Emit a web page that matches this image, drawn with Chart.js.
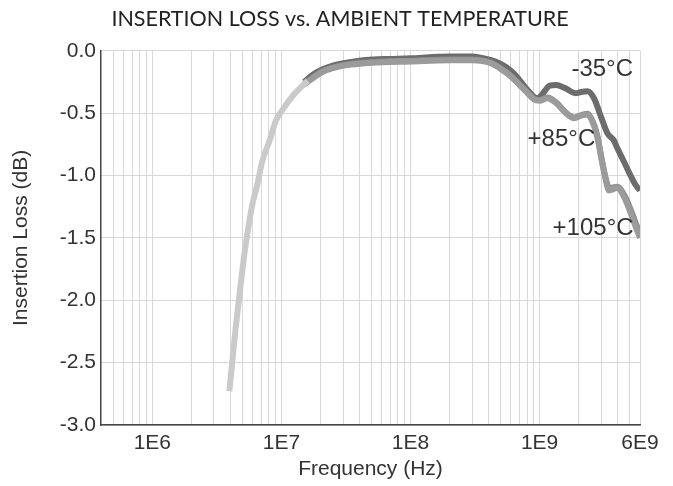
<!DOCTYPE html>
<html lang="en">
<head>
  <meta charset="UTF-8">
  <title>Insertion Loss vs. Ambient Temperature</title>
  <script src="https://cdn.jsdelivr.net/npm/chart.js"></script>
  <style>
    body { margin: 0; background: #fff; }
  </style>
</head>
<body>
<canvas id="lossChart" width="673" height="486"></canvas>

<script>
  // low frequency part, all three temperatures on one trace
  const lowBandFreq = [3.95e6, 4.4e6, 4.81e6, 5.26e6, 5.93e6, 6.48e6, 7.09e6, 8.22e6, 8.98e6, 1.04e7, 1.25e7, 1.49e7, 1.6e7];
  const lowBandLoss = [-2.73, -2.24, -1.89, -1.57, -1.24, -1.08, -0.89, -0.70, -0.57, -0.46, -0.35, -0.27, -0.24];

  // -35 C
  const minus35Freq = [1.5e7, 1.73e7, 2.07e7, 2.47e7, 3.2e7, 4.0e7, 5.1e7, 7e7, 1e8, 1.5e8, 2e8, 3e8, 3.5e8, 4.2e8, 5e8, 6e8, 7e8, 8e8, 9.06e8, 9.6e8, 1.03e9, 1.1e9, 1.2e9, 1.35e9, 1.55e9, 1.9e9, 2.1e9, 2.34e9, 2.64e9, 2.97e9, 3.35e9, 3.77e9, 4.0e9, 4.51e9, 5.07e9, 5.5e9, 6e9];
  const minus35Loss = [-0.25, -0.195, -0.15, -0.12, -0.095, -0.08, -0.07, -0.065, -0.06, -0.05, -0.045, -0.045, -0.055, -0.075, -0.105, -0.16, -0.235, -0.31, -0.37, -0.38, -0.36, -0.32, -0.28, -0.275, -0.295, -0.34, -0.33, -0.325, -0.38, -0.52, -0.66, -0.72, -0.78, -0.89, -1.0, -1.07, -1.12];

  // +85 C
  const plus85Freq = [1.5e7, 2.07e7, 2.47e7, 3.2e7, 5.1e7, 1e8, 2e8, 3e8, 3.5e8, 4.2e8, 5e8, 6e8, 7e8, 8e8, 9.06e8, 1e9, 1.15e9, 1.35e9, 1.6e9, 1.85e9, 2.1e9, 2.34e9, 2.6e9, 2.8e9, 3.06e9, 3.25e9, 3.45e9, 3.7e9, 4.0e9, 4.6e9, 5.2e9, 5.6e9, 6e9];
  const plus85Loss = [-0.265, -0.165, -0.135, -0.11, -0.09, -0.08, -0.07, -0.07, -0.075, -0.095, -0.14, -0.2, -0.27, -0.33, -0.385, -0.395, -0.375, -0.415, -0.495, -0.535, -0.515, -0.505, -0.575, -0.68, -0.89, -1.02, -1.1, -1.095, -1.09, -1.17, -1.3, -1.39, -1.47];

  // +105 C
  const plus105Freq = [1.5e7, 2.07e7, 2.47e7, 3.2e7, 5.1e7, 1e8, 2e8, 3e8, 3.5e8, 4.2e8, 5e8, 6e8, 7e8, 8e8, 9.06e8, 1e9, 1.15e9, 1.35e9, 1.6e9, 1.85e9, 2.1e9, 2.34e9, 2.6e9, 2.8e9, 3.06e9, 3.25e9, 3.45e9, 3.7e9, 4.0e9, 4.6e9, 5.2e9, 5.6e9, 6e9];
  const plus105Loss = [-0.27, -0.17, -0.14, -0.115, -0.095, -0.085, -0.075, -0.075, -0.08, -0.1, -0.145, -0.205, -0.275, -0.335, -0.39, -0.4, -0.38, -0.42, -0.5, -0.54, -0.52, -0.51, -0.58, -0.69, -0.9, -1.03, -1.12, -1.11, -1.1, -1.19, -1.33, -1.42, -1.5];

  // axis ticks
  const xMajorTicks = [1e6, 1e7, 1e8, 1e9, 6e9];
  const xTickLabels = ['1E6', '1E7', '1E8', '1E9', '6E9'];
  const yTicks = [0, -0.5, -1, -1.5, -2, -2.5, -3];

  // curve labels
  const tempLabels = ['-35\u00B0C', '+85\u00B0C', '+105\u00B0C'];
  const tempLabelFreq = [5.3e9, 2.7e9, 5.35e9];
  const tempLabelLoss = [-0.15, -0.71, -1.42];

  const toPoints = (xs, ys) => xs.map((x, i) => ({ x: x, y: ys[i] }));

  const line = (label, xs, ys, color) => ({
    label: label,
    data: toPoints(xs, ys),
    borderColor: color,
    backgroundColor: color,
    borderWidth: 6,
    pointRadius: 0,
    cubicInterpolationMode: 'monotone',
    fill: false
  });

  const curveLabels = {
    id: 'curveLabels',
    afterDatasetsDraw(chart) {
      const c = chart.ctx;
      const xs = chart.scales.x, ys = chart.scales.y;
      c.save();
      c.font = '24px "Liberation Sans", Arial, sans-serif';
      c.fillStyle = '#333';
      c.textAlign = 'right';
      c.textBaseline = 'middle';
      tempLabels.forEach((t, i) => {
        c.fillText(t, xs.getPixelForValue(tempLabelFreq[i]), ys.getPixelForValue(tempLabelLoss[i]));
      });
      c.restore();
    }
  };

  const tickFont = { family: '"Liberation Sans", Arial, sans-serif', size: 21 };

  new Chart(document.getElementById('lossChart'), {
    type: 'line',
    data: {
      datasets: [
        line('low band', lowBandFreq, lowBandLoss, '#cacaca'),
        line('+105\u00B0C', plus105Freq, plus105Loss, '#9b9b9b'),
        line('+85\u00B0C', plus85Freq, plus85Loss, '#8e8e8e'),
        line('-35\u00B0C', minus35Freq, minus35Loss, '#6c6c6c')
      ]
    },
    options: {
      responsive: false,
      animation: false,
      devicePixelRatio: 1,
      // left padding keeps the title centred like the original
      layout: { padding: { left: 40, right: 33, top: 0, bottom: 0 } },
      plugins: {
        legend: { display: false },
        tooltip: { enabled: false },
        title: {
          display: true,
          text: 'INSERTION LOSS vs. AMBIENT TEMPERATURE',
          color: '#222',
          font: { family: 'Lato, sans-serif', size: 21.5, weight: 'normal' },
          padding: { top: 6, bottom: 19 }
        }
      },
      scales: {
        x: {
          type: 'logarithmic',
          min: 4e5,
          max: 6e9,
          afterBuildTicks(scale) {
            const ticks = [];
            for (let d = 1e5; d <= 1e9; d *= 10) {
              for (let m = 1; m <= 9; m++) {
                const v = m * d;
                if (v > scale.min && v < scale.max) ticks.push({ value: v });
              }
            }
            ticks.push({ value: scale.max });
            scale.ticks = ticks;
          },
          afterFit(scale) { scale.height = 61; },
          ticks: {
            autoSkip: false,
            maxRotation: 0,
            padding: 6,
            color: '#333',
            font: tickFont,
            callback(value) {
              const i = xMajorTicks.findIndex(v => Math.abs(v - value) / v < 1e-6);
              return i >= 0 ? xTickLabels[i] : '';
            }
          },
          grid: { color: '#d8d8d8', lineWidth: 1, drawTicks: false },
          border: { color: '#444', width: 1.5 },
          title: {
            display: true,
            text: 'Frequency (Hz)',
            color: '#333',
            font: tickFont,
            padding: { top: 0, bottom: 4 }
          }
        },
        y: {
          type: 'linear',
          min: -3,
          max: 0,
          afterBuildTicks(scale) {
            scale.ticks = yTicks.map(v => ({ value: v }));
          },
          afterFit(scale) { scale.width = 61; },
          ticks: {
            padding: 5,
            color: '#333',
            font: tickFont,
            callback: value => value.toFixed(1)
          },
          grid: { color: '#d8d8d8', lineWidth: 1, drawTicks: false },
          border: { color: '#444', width: 1.5 },
          title: {
            display: true,
            text: 'Insertion Loss (dB)',
            color: '#333',
            font: tickFont,
            padding: { top: -31, bottom: 0 }
          }
        }
      }
    },
    plugins: [curveLabels]
  });
</script>
</body>
</html>
